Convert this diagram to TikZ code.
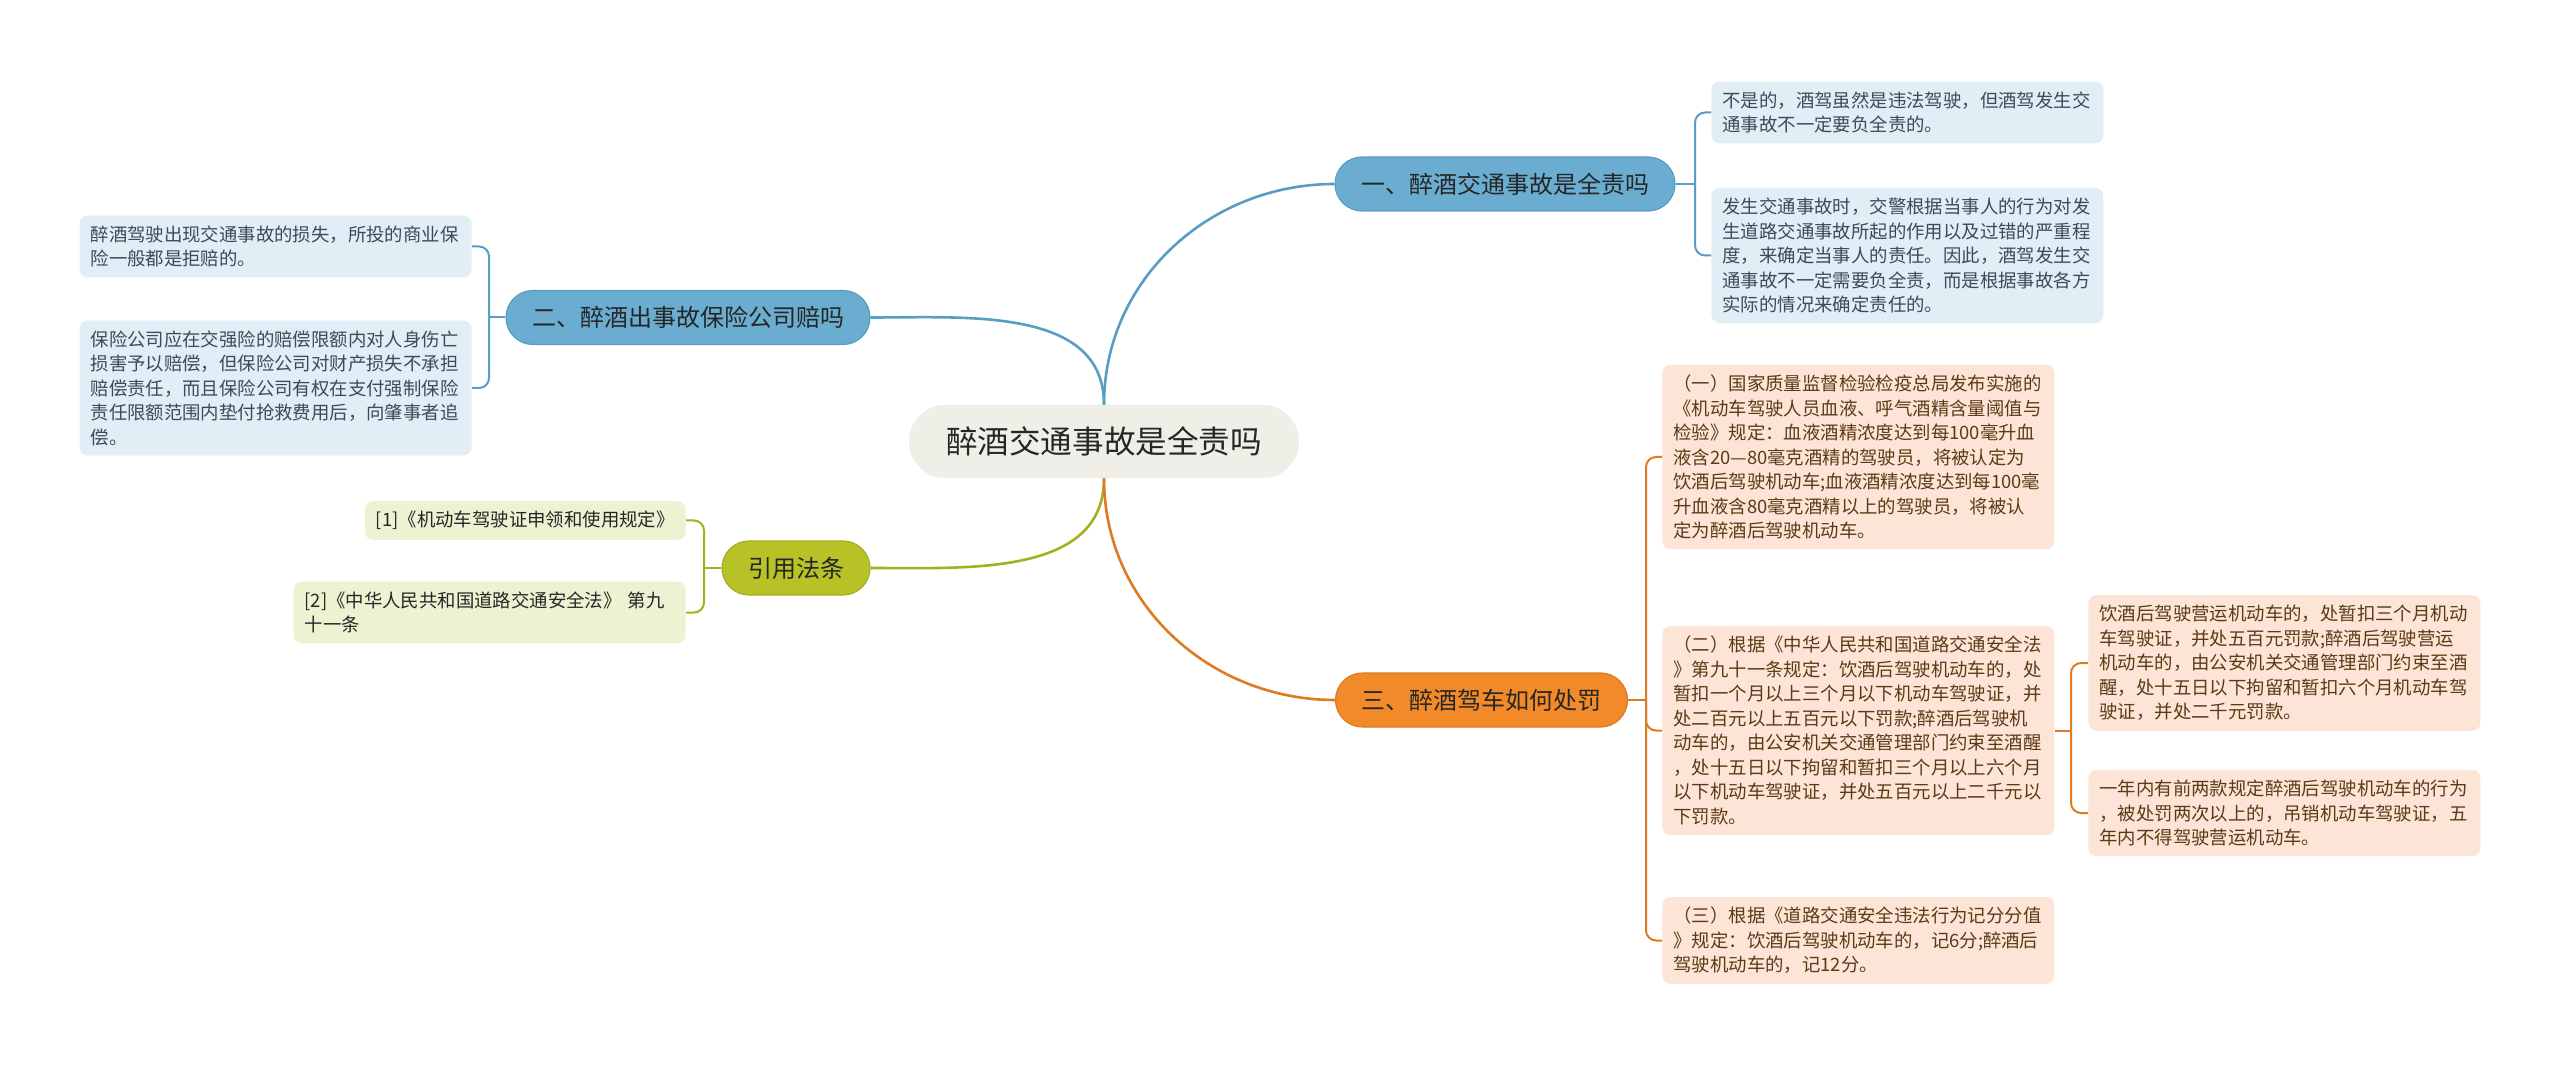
\documentclass[tikz,border=0pt]{standalone}
\usepackage{fontspec}
\setmainfont{Noto Sans CJK SC}
\definecolor{rootfill}{HTML}{EFEFE7}
\definecolor{inktext}{HTML}{262626}
\definecolor{bluefill}{HTML}{6AADD1}
\definecolor{blueedge}{HTML}{5A9DC2}
\definecolor{bluepale}{HTML}{E2EEF6}
\definecolor{bluetext}{HTML}{3B4B58}
\definecolor{olivefill}{HTML}{B7C226}
\definecolor{oliveedge}{HTML}{A5B01E}
\definecolor{olivepale}{HTML}{EFF1D3}
\definecolor{orangefill}{HTML}{F28A2A}
\definecolor{orangeedge}{HTML}{E07A20}
\definecolor{orangepale}{HTML}{FCE5D6}
\definecolor{orangetext}{HTML}{5C3A16}

\begin{document}
\begin{tikzpicture}[x=0.5pt, y=-0.5pt,
    every node/.style={font=\fontsize{9.2}{12.25}\selectfont},
    rootbox/.style={fill=rootfill, rounded corners=18pt, minimum height=36.5pt, inner xsep=18.5pt, text=inktext, font=\fontsize{15.8}{18}\selectfont},
    topicbox/.style={rounded corners=13.5pt, minimum height=27pt, inner xsep=13pt, text=inktext, line width=0.6pt, font=\fontsize{12}{14}\selectfont},
    note/.style={rounded corners=4pt, text width=185pt, align=left, inner xsep=5.5pt, inner ysep=5pt},
    bluenote/.style={note, fill=bluepale, text=bluetext},
    olivenote/.style={note, fill=olivepale, text=inktext},
    orangenote/.style={note, fill=orangepale, text=orangetext},
    bluelink/.style={draw=blueedge, line width=1pt, rounded corners=5pt},
    olivelink/.style={draw=oliveedge, line width=1pt, rounded corners=5pt},
    orangelink/.style={draw=orangeedge, line width=1pt, rounded corners=5pt}]

    \fill[white] (0,0) rectangle (2560,1069);
    \useasboundingbox (0,0) rectangle (2560,1069);

    \node[rootbox] (root) at (1104,441.5) {醉酒交通事故是全责吗};

    \node[topicbox, fill=bluefill, draw=blueedge] (t1) at (1505,184) {一、醉酒交通事故是全责吗};
    \node[topicbox, fill=bluefill, draw=blueedge] (t2) at (688,317.5) {二、醉酒出事故保险公司赔吗};
    \node[topicbox, fill=olivefill, draw=oliveedge] (t4) at (796,568) {引用法条};
    \node[topicbox, fill=orangefill, draw=orangeedge] (t3) at (1481.5,700) {三、醉酒驾车如何处罚};

    \node[bluenote, anchor=west] (b11) at (1711,112.5) {不是的，酒驾虽然是违法驾驶，但酒驾发生交\\通事故不一定要负全责的。};
    \node[bluenote, anchor=west] (b12) at (1711,255.5) {发生交通事故时，交警根据当事人的行为对发\\生道路交通事故所起的作用以及过错的严重程\\度，来确定当事人的责任。因此，酒驾发生交\\通事故不一定需要负全责，而是根据事故各方\\实际的情况来确定责任的。};

    \node[bluenote, anchor=east] (b21) at (472,246.5) {醉酒驾驶出现交通事故的损失，所投的商业保\\险一般都是拒赔的。};
    \node[bluenote, anchor=east] (b22) at (472,388) {保险公司应在交强险的赔偿限额内对人身伤亡\\损害予以赔偿，但保险公司对财产损失不承担\\赔偿责任，而且保险公司有权在支付强制保险\\责任限额范围内垫付抢救费用后，向肇事者追\\偿。};

    \node[olivenote, anchor=east, text width=] (g1) at (686,520.5) {[1]《机动车驾驶证申领和使用规定》};
    \node[olivenote, anchor=east] (g2) at (686,612.5) {[2]《中华人民共和国道路交通安全法》 第九\\十一条};

    \node[orangenote, anchor=west] (o1) at (1662,457) {（一）国家质量监督检验检疫总局发布实施的\\《机动车驾驶人员血液、呼气酒精含量阈值与\\检验》规定：血液酒精浓度达到每100毫升血\\液含20—80毫克酒精的驾驶员，将被认定为\\饮酒后驾驶机动车;血液酒精浓度达到每100毫\\升血液含80毫克酒精以上的驾驶员，将被认\\定为醉酒后驾驶机动车。};
    \node[orangenote, anchor=west] (o2) at (1662,730.5) {（二）根据《中华人民共和国道路交通安全法\\》第九十一条规定：饮酒后驾驶机动车的，处\\暂扣一个月以上三个月以下机动车驾驶证，并\\处二百元以上五百元以下罚款;醉酒后驾驶机\\动车的，由公安机关交通管理部门约束至酒醒\\，处十五日以下拘留和暂扣三个月以上六个月\\以下机动车驾驶证，并处五百元以上二千元以\\下罚款。};
    \node[orangenote, anchor=west] (o3) at (1662,940.5) {（三）根据《道路交通安全违法行为记分分值\\》规定：饮酒后驾驶机动车的，记6分;醉酒后\\驾驶机动车的，记12分。};

    \node[orangenote, anchor=west] (o21) at (2088,663) {饮酒后驾驶营运机动车的，处暂扣三个月机动\\车驾驶证，并处五百元罚款;醉酒后驾驶营运\\机动车的，由公安机关交通管理部门约束至酒\\醒，处十五日以下拘留和暂扣六个月机动车驾\\驶证，并处二千元罚款。};
    \node[orangenote, anchor=west] (o22) at (2088,813) {一年内有前两款规定醉酒后驾驶机动车的行为\\，被处罚两次以上的，吊销机动车驾驶证，五\\年内不得驾驶营运机动车。};

    \draw[blueedge, line width=1.3pt] (root.north) to[out=90, in=180] (t1.west);
    \draw[blueedge, line width=1.3pt] (root.north) to[out=90, in=0] (t2.east);
    \draw[oliveedge, line width=1.3pt] (root.south) to[out=-90, in=0] (t4.east);
    \draw[orangeedge, line width=1.3pt] (root.south) to[out=-90, in=180] (t3.west);

    \coordinate (hb1) at (1695,184);
    \coordinate (hb2) at (489,317.5);
    \coordinate (hg) at (704,568);
    \coordinate (ho) at (1646,700);
    \coordinate (ho2) at (2071,730.5);

    \draw[bluelink] (t1.east) -- (hb1);
    \draw[bluelink] (hb1) |- (b11.west);
    \draw[bluelink] (hb1) |- (b12.west);

    \draw[bluelink] (t2.west) -- (hb2);
    \draw[bluelink] (hb2) |- (b21.east);
    \draw[bluelink] (hb2) |- (b22.east);

    \draw[olivelink] (t4.west) -- (hg);
    \draw[olivelink] (hg) |- (g1.east);
    \draw[olivelink] (hg) |- (g2.east);

    \draw[orangelink] (t3.east) -- (ho);
    \draw[orangelink] (ho) |- (o1.west);
    \draw[orangelink] (ho) |- (o2.west);
    \draw[orangelink] (ho) |- (o3.west);

    \draw[orangelink] (o2.east) -- (ho2);
    \draw[orangelink] (ho2) |- (o21.west);
    \draw[orangelink] (ho2) |- (o22.west);
\end{tikzpicture}
\end{document}
